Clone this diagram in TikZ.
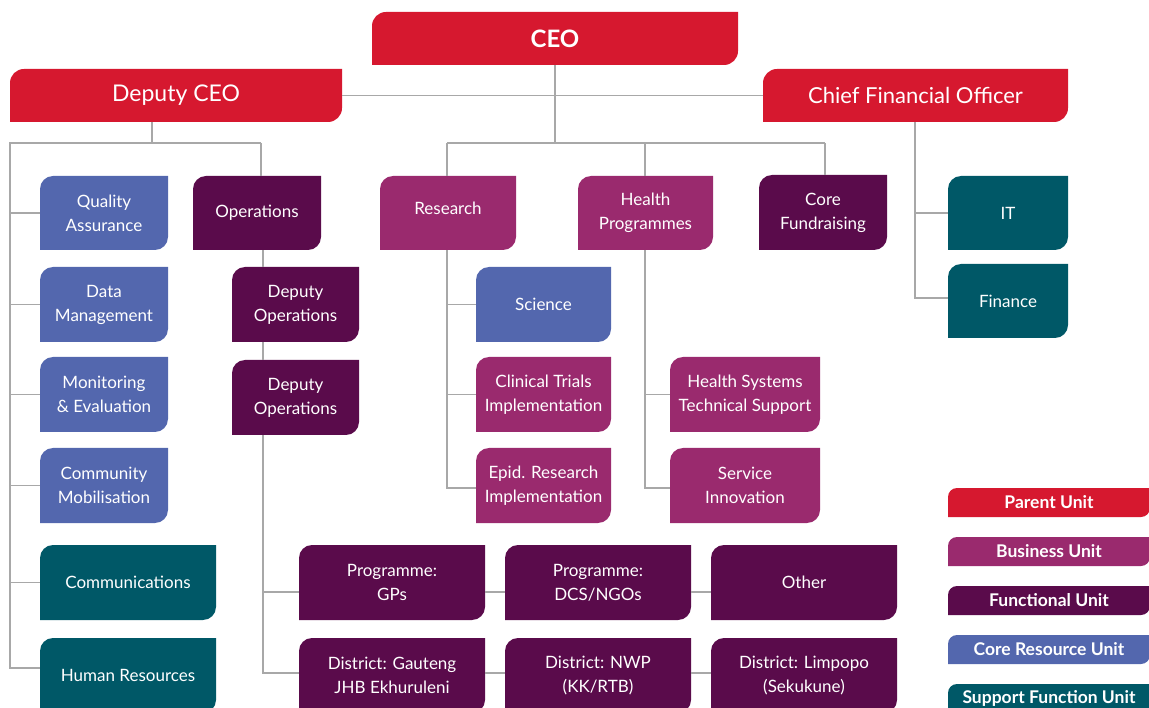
\documentclass[tikz,border=0pt]{standalone}
\usepackage{fontspec}
\setmainfont{Lato}
\definecolor{cRed}{HTML}{D6182F}
\definecolor{cBus}{HTML}{9A2A6E}
\definecolor{cFun}{HTML}{5A0B4B}
\definecolor{cCore}{HTML}{5367AE}
\definecolor{cSup}{HTML}{005867}
\definecolor{cLine}{HTML}{A8A8A8}
\newcommand{\ubfont}{\fontsize{17}{24}\selectfont}
\tikzset{
  ubox/.style 2 args={align=center, text=white, inner sep=0pt, font=\ubfont,
    path picture={
      \fill[#1] ([yshift=-#2]path picture bounding box.north west)
        .. controls ([yshift={-0.448*#2}]path picture bounding box.north west)
           and ([xshift={0.448*#2}]path picture bounding box.north west)
        .. ([xshift=#2]path picture bounding box.north west)
        -- (path picture bounding box.north east)
        -- ([yshift=#2]path picture bounding box.south east)
        .. controls ([yshift={0.448*#2}]path picture bounding box.south east)
           and ([xshift={-0.448*#2}]path picture bounding box.south east)
        .. ([xshift=-#2]path picture bounding box.south east)
        -- (path picture bounding box.south west) -- cycle;}},
  unit/.style={ubox={#1}{13}, minimum height=75pt},
  legbox/.style={ubox={#1}{9}, minimum width=202pt, minimum height=29pt, font=\fontsize{17.5}{20}\selectfont\bfseries},
  conn/.style={draw=cLine, line width=1.3pt}
}
\begin{document}
\begin{tikzpicture}[x=1pt,y=-1pt]
\useasboundingbox (0,0) rectangle (1149,708);

% top level
\node[ubox={cRed}{14}, minimum width=366pt, minimum height=53pt, font=\fontsize{24}{28}\selectfont\bfseries] (ceo) at (555,38.5) {CEO};
\node[ubox={cRed}{14}, minimum width=332pt, minimum height=53pt, font=\fontsize{23}{28}\selectfont] (dceo) at (176,95.5) {Deputy CEO};
\node[ubox={cRed}{14}, minimum width=305pt, minimum height=53pt, font=\fontsize{22}{28}\selectfont] (cfo) at (915.5,95.5) {Chief Financial Officer};

% left column
\node[unit=cCore, minimum width=128pt, minimum height=74pt] (qa) at (104,213) {Quality\\Assurance};
\node[unit=cCore, minimum width=128pt] (dm) at (104,304.5) {Data\\Management};
\node[unit=cCore, minimum width=128pt] (me) at (104,394.5) {Monitoring\\\& Evaluation};
\node[unit=cCore, minimum width=128pt] (cm) at (104,485.5) {Community\\Mobilisation};
\node[unit=cSup, minimum width=176pt] (comm) at (128,582.5) {Communications};
\node[unit=cSup, minimum width=176pt] (hr) at (128,675.5) {Human Resources};

% operations column
\node[unit=cFun, minimum width=128pt, minimum height=74pt] (ops) at (257,213) {Operations};
\node[unit=cFun, minimum width=127pt] (dops1) at (295.5,304.5) {Deputy\\Operations};
\node[unit=cFun, minimum width=127pt] (dops2) at (295.5,397.5) {Deputy\\Operations};

% bottom rows
\node[unit=cFun, minimum width=186pt] (pgp) at (392,582.5) {Programme:\\GPs};
\node[unit=cFun, minimum width=186pt] (pdcs) at (598,582.5) {Programme:\\DCS/NGOs};
\node[unit=cFun, minimum width=186pt] (oth) at (804,582.5) {Other};
\node[unit=cFun, minimum width=186pt] (dg) at (392,675.5) {District: Gauteng\\JHB Ekhuruleni};
\node[unit=cFun, minimum width=186pt] (dn) at (598,675.5) {District: NWP\\(KK/RTB)};
\node[unit=cFun, minimum width=186pt] (dl) at (804,675.5) {District: Limpopo\\(Sekukune)};

% middle units
\node[unit=cBus, minimum width=136pt, minimum height=74pt] (res) at (448,213) {Research\\[-14pt]\mbox{}};
\node[unit=cBus, minimum width=135pt, minimum height=74pt] (hp) at (645.5,213) {Health\\Programmes};
\node[unit=cFun, minimum width=128pt] (cf) at (823,212.5) {Core\\Fundraising};
\node[unit=cCore, minimum width=135pt] (sci) at (543.5,304.5) {Science};
\node[unit=cBus, minimum width=135pt] (ct) at (543.5,394.5) {Clinical Trials\\Implementation};
\node[unit=cBus, minimum width=135pt] (ep) at (543.5,485.5) {Epid. Research\\Implementation};
\node[unit=cBus, minimum width=150pt] (hs) at (745,394.5) {Health Systems\\Technical Support};
\node[unit=cBus, minimum width=150pt] (si) at (745,485.5) {Service\\Innovation};

% finance
\node[unit=cSup, minimum width=120pt, minimum height=74pt] (it) at (1008,213) {IT};
\node[unit=cSup, minimum width=120pt, minimum height=74pt] (fin) at (1008,301) {Finance};

% legend
\node[legbox=cRed] (lp) at (1049,502.5) {Parent Unit};
\node[legbox=cBus] (lb) at (1049,551.5) {Business Unit};
\node[legbox=cFun] (lf) at (1049,600.5) {Functional Unit};
\node[legbox=cCore] (lc) at (1049,649.5) {Core Resource Unit};
\node[legbox=cSup] (ls) at (1049,698.5) {Support Function Unit};

% junction coordinates
\coordinate (dv) at (152,143);
\coordinate (t0) at (10,143);
\coordinate (t1) at (261,143);
\coordinate (o1) at (263,673);
\coordinate (r0) at (447,143);
\coordinate (c0) at (555,143);
\coordinate (f0) at (825,143);
\coordinate (rv) at (447,488);
\coordinate (hv) at (645,488);
\coordinate (fv) at (915,298);

% connectors
\draw[conn] (dceo.east) -- (cfo.west);
\draw[conn] (ceo.south) -- (c0);
\draw[conn] (r0) -- (f0);
\draw[conn] (r0) -- (r0 |- res.north);
\draw[conn] (c0 -| hv) -- (hv |- hp.north);
\draw[conn] (f0) -- (f0 |- cf.north);

\draw[conn] (dv |- dceo.south) -- (dv);
\draw[conn] (t1) -- (t0) |- ([yshift=7.5pt]hr.west);
\draw[conn] (t1) -- (t1 |- ops.north);
\draw[conn] (t0 |- qa.west) -- (qa.west);
\draw[conn] (t0 |- dm.west) -- (dm.west);
\draw[conn] (t0 |- me.west) -- (me.west);
\draw[conn] (t0 |- cm.west) -- (cm.west);
\draw[conn] (t0 |- comm.west) -- (comm.west);

\draw[conn] (o1 |- ops.south) -- (o1 |- dops1.north);
\draw[conn] (o1 |- dops1.south) -- (o1 |- dops2.north);
\draw[conn] (o1 |- dops2.south) -- (o1) -- ([yshift=2.5pt]dg.west);
\draw[conn] ([yshift=-9.5pt]pgp.west -| o1) -- ([yshift=-9.5pt]pgp.west);
\draw[conn] ([yshift=-9.5pt]pgp.east) -- ([yshift=-9.5pt]pdcs.west);
\draw[conn] ([yshift=-9.5pt]pdcs.east) -- ([yshift=-9.5pt]oth.west);
\draw[conn] ([yshift=2.5pt]dg.east) -- ([yshift=2.5pt]dn.west);
\draw[conn] ([yshift=2.5pt]dn.east) -- ([yshift=2.5pt]dl.west);

\draw[conn] (rv |- res.south) -- (rv) -- ([yshift=-2.5pt]ep.west);
\draw[conn] (rv |- sci.west) -- (sci.west);
\draw[conn] (rv |- ct.west) -- (ct.west);
\draw[conn] (hv |- hp.south) -- (hv) -- ([yshift=-2.5pt]si.west);
\draw[conn] (hv |- hs.west) -- (hs.west);

\draw[conn] (fv |- cfo.south) -- (fv) -- ([yshift=3pt]fin.west);
\draw[conn] (fv |- it.west) -- (it.west);
\end{tikzpicture}
\end{document}
